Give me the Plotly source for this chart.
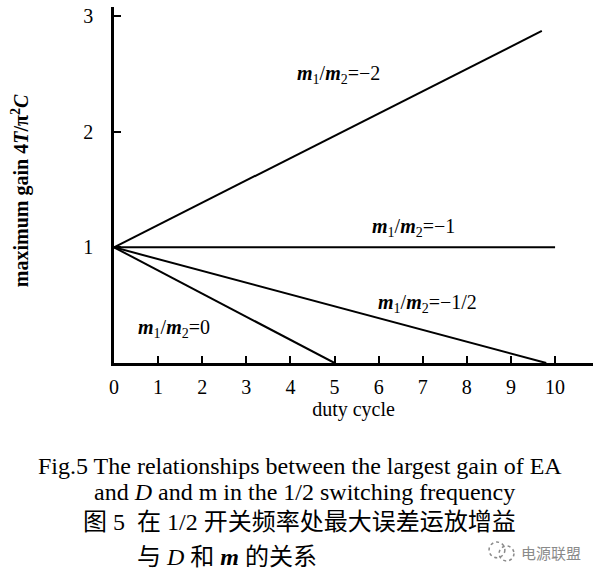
import plotly.graph_objects as go

# data
duty_m2 = [0, 9.7]
gain_m2 = [1, 2.87]
duty_m1 = [0, 10.0]
gain_m1 = [1, 1]
duty_mhalf = [0, 9.8]
gain_mhalf = [1, 0]
duty_m0 = [0, 5.0]
gain_m0 = [1, 0]

x_ticks = list(range(0, 11))
y_ticks = [1, 2, 3]

series = [(duty_m2, gain_m2), (duty_m1, gain_m1), (duty_mhalf, gain_mhalf), (duty_m0, gain_m0)]

labels = [
    ("<b><i>m</i></b><sub>1</sub>/<b><i>m</i></b><sub>2</sub>=−2", 5.10, 2.49),
    ("<b><i>m</i></b><sub>1</sub>/<b><i>m</i></b><sub>2</sub>=−1", 6.79, 1.17),
    ("<b><i>m</i></b><sub>1</sub>/<b><i>m</i></b><sub>2</sub>=−1/2", 7.10, 0.516),
    ("<b><i>m</i></b><sub>1</sub>/<b><i>m</i></b><sub>2</sub>=0", 1.37, 0.30),
]

SERIF = "Liberation Serif, Times New Roman, serif"

fig = go.Figure()
for xs, ys in series:
    fig.add_trace(go.Scatter(x=xs, y=ys, mode="lines",
                             line=dict(color="black", width=2), showlegend=False))

ann = []
for t, x, y in labels:
    ann.append(dict(text=t, x=x, y=y, xref="x", yref="y", showarrow=False,
                    xanchor="center", yanchor="middle",
                    font=dict(family=SERIF, size=20, color="black")))

ann.append(dict(text="<b>maximum gain 4<i>T</i>/π<sup>2</sup><i>C</i></b>",
                x=-0.196, y=0.483, xref="paper", yref="paper", textangle=-90,
                xanchor="center", yanchor="middle",
                showarrow=False, font=dict(family=SERIF, size=20, color="black")))

cap_font = dict(family=SERIF + ", Noto Sans CJK SC", size=24, color="black")
captions = [
    ("Fig.5 The relationships between the largest gain of EA", 0.388, -0.2905),
    ("and <i>D</i> and m in the 1/2 switching frequency", 0.398, -0.363),
    ("图 5  在 1/2 开关频率处最大误差运放增益", 0.388, -0.447),
    ("与 <i>D</i> 和 <b><i>m</i></b> 的关系", 0.236, -0.545),
]
for t, x, y in captions:
    ann.append(dict(text=t, x=x, y=y, xref="paper", yref="paper", showarrow=False,
                    xanchor="center", yanchor="middle", font=cap_font))
ann.append(dict(text="电源联盟", x=0.912, y=-0.531, xref="paper", yref="paper",
                xanchor="center", yanchor="middle",
                showarrow=False, font=dict(family="Noto Sans CJK SC", size=15, color="#8a8a8a")))

shapes = [
    dict(type="circle", xref="paper", yref="paper", x0=0.783, x1=0.816, y0=-0.547, y1=-0.503,
         line=dict(color="#8a8a8a", width=1.5, dash="dot"), layer="above"),
    dict(type="circle", xref="paper", yref="paper", x0=0.804, x1=0.835, y0=-0.556, y1=-0.514,
         line=dict(color="#8a8a8a", width=1.5, dash="dot"), layer="above"),
]

fig.update_layout(
    width=600, height=580,
    margin=dict(l=114, r=7, t=5, b=217),
    paper_bgcolor="white", plot_bgcolor="white",
    annotations=ann, shapes=shapes,
    xaxis=dict(range=[0, 10.86], tickvals=x_ticks, ticks="inside", ticklen=7, tickwidth=2,
               tickcolor="black", showline=True, linecolor="black", linewidth=2.5,
               showgrid=False, zeroline=False, ticklabelstandoff=4,
               tickfont=dict(family=SERIF, size=20, color="black"),
               title=dict(text="duty cycle", font=dict(family=SERIF, size=20, color="black"),
                          standoff=2)),
    yaxis=dict(range=[0, 3.077], tickvals=y_ticks, ticks="inside", ticklen=7, tickwidth=2,
               tickcolor="black", showline=True, linecolor="black", linewidth=2.5,
               showgrid=False, zeroline=False, ticklabelstandoff=14,
               tickfont=dict(family=SERIF, size=20, color="black")),
)

fig.write_html("out.html", config={"displayModeBar": False},
               post_script="document.body.style.margin='0px';")
